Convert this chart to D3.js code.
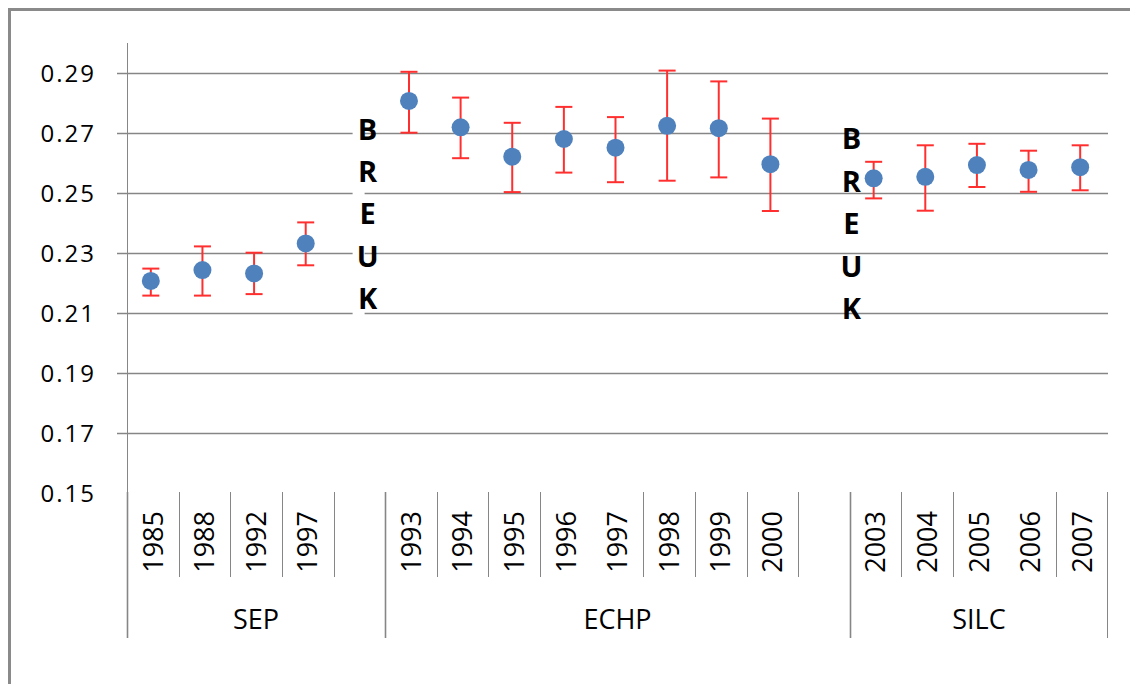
<!DOCTYPE html>
<html>
<head>
<meta charset="utf-8">
<script src="https://cdn.jsdelivr.net/npm/d3@7"></script>
<style>
  body { margin: 0; background: #fff; }
  svg text { font-family: "Open Sans", sans-serif; fill: #000; }
</style>
</head>
<body>
<div class="chart-canvas"></div>
<script>
// survey groups and their years
const groups = ['SEP', 'ECHP', 'SILC'];
const sepYears = ['1985', '1988', '1992', '1997'];
const echpYears = ['1993', '1994', '1995', '1996', '1997', '1998', '1999', '2000'];
const silcYears = ['2003', '2004', '2005', '2006', '2007'];

// point estimates and confidence bounds
const sepMean = [0.2207, 0.2243, 0.2232, 0.2332];
const sepLow = [0.2158, 0.2158, 0.2163, 0.2259];
const sepHigh = [0.2248, 0.2322, 0.2301, 0.2402];

const echpMean = [0.2807, 0.2719, 0.2621, 0.2680, 0.2651, 0.2724, 0.2716, 0.2596];
const echpLow = [0.2701, 0.2616, 0.2503, 0.2568, 0.2536, 0.2541, 0.2552, 0.2440];
const echpHigh = [0.2904, 0.2818, 0.2734, 0.2787, 0.2753, 0.2908, 0.2872, 0.2748];

const silcMean = [0.2549, 0.2554, 0.2593, 0.2577, 0.2586];
const silcLow = [0.2482, 0.2441, 0.2520, 0.2504, 0.2509];
const silcHigh = [0.2604, 0.2659, 0.2664, 0.2641, 0.2659];

const yTicks = [0.15, 0.17, 0.19, 0.21, 0.23, 0.25, 0.27, 0.29];
const breakLabel = 'BREUK';

//build one slot per year, plus an empty slot after SEP and ECHP
const slots = [];
const addGroup = (group, years, mean, low, high, gap) => {
    years.forEach((yr, i) => slots.push({ group, year: yr, key: group + '|' + yr, mean: mean[i], low: low[i], high: high[i] }));
    if (gap) slots.push({ group, year: '', key: group + '|', mean: null });
};
addGroup(groups[0], sepYears, sepMean, sepLow, sepHigh, true);
addGroup(groups[1], echpYears, echpMean, echpLow, echpHigh, true);
addGroup(groups[2], silcYears, silcMean, silcLow, silcHigh, false);

const dims = { width: 1130, height: 684 };
const plot = { left: 127, right: 1108, top: 43, bottom: 493 };

const svg = d3.select('.chart-canvas')
    .append('svg')
    .attr('width', dims.width)
    .attr('height', dims.height);

// outer frame (only top and left edges fall inside the picture)
svg.append('path')
    .attr('d', `M9.5,${dims.height} V9.5 H${dims.width}`)
    .attr('fill', 'none')
    .attr('stroke', '#8a8a8a')
    .attr('stroke-width', 3);

const x = d3.scaleBand()
    .domain(slots.map(d => d.key))
    .range([plot.left, plot.right])
    .padding(0);

const y = d3.scaleLinear()
    .domain([0.15, 0.30])
    .range([plot.bottom, plot.top]);

//gridlines + tick labels
const grid = svg.append('g');
grid.selectAll('line')
    .data(yTicks.filter(t => t > 0.15))
    .enter()
    .append('line')
    .attr('x1', plot.left - 10)
    .attr('x2', plot.right)
    .attr('y1', d => Math.round(y(d)) + 0.5)
    .attr('y2', d => Math.round(y(d)) + 0.5)
    .attr('stroke', '#868686')
    .attr('stroke-width', 1.3);

grid.selectAll('text')
    .data(yTicks)
    .enter()
    .append('text')
    .attr('x', 96)
    .attr('y', d => y(d))
    .attr('dy', '0.36em')
    .attr('text-anchor', 'end')
    .attr('font-size', 24)
    .attr('letter-spacing', 2)
    .text(d => d.toFixed(2));

svg.append('line')
    .attr('x1', plot.left + 0.5).attr('x2', plot.left + 0.5)
    .attr('y1', plot.top).attr('y2', plot.bottom)
    .attr('stroke', '#868686');

//category axis: year labels, separators, group labels
const sepBottom = 577, groupBottom = 638;
// Excel left out two of the inner separators, keep them out too
const skipSep = ['ECHP|1997', 'SILC|2006'];

slots.forEach((d, i) => {
    const first = i === 0 || slots[i - 1].group !== d.group;
    if (!first && skipSep.includes(d.key)) return;
    svg.append('line')
        .attr('x1', Math.round(x(d.key)) + 0.5)
        .attr('x2', Math.round(x(d.key)) + 0.5)
        .attr('y1', plot.bottom - 1)
        .attr('y2', first ? groupBottom : sepBottom)
        .attr('stroke', '#868686')
        .attr('stroke-width', first ? 1.6 : 1);
});
svg.append('line')
    .attr('x1', plot.right - 0.5).attr('x2', plot.right - 0.5)
    .attr('y1', plot.bottom - 1).attr('y2', groupBottom)
    .attr('stroke', '#868686');

svg.append('g')
    .selectAll('text')
    .data(slots.filter(d => d.year))
    .enter()
    .append('text')
    .attr('transform', d => `translate(${x(d.key) + x.bandwidth() / 2}, 511) rotate(-90)`)
    .attr('dy', '0.36em')
    .attr('text-anchor', 'end')
    .attr('font-size', 27)
    .text(d => d.year);

svg.append('g')
    .selectAll('text')
    .data(groups)
    .enter()
    .append('text')
    .attr('x', g => {
        const keys = slots.filter(d => d.group === g).map(d => d.key);
        return (x(keys[0]) + x(keys[keys.length - 1]) + x.bandwidth()) / 2;
    })
    .attr('y', 629)
    .attr('text-anchor', 'middle')
    .attr('font-size', 27)
    .text(g => g);

//break annotations
const breakSpots = [
    { x: x('SEP|') + x.bandwidth() * 0.66, y: y(0.2713), mask: true },
    { x: x('ECHP|') + x.bandwidth() * 1.03, y: y(0.2680), mask: false }
];
breakSpots.forEach(b => {
    if (b.mask) {
        svg.append('rect')
            .attr('x', b.x - 15).attr('y', b.y - 25)
            .attr('width', 12).attr('height', 215)
            .attr('fill', '#fff');
    }
    svg.append('g')
        .selectAll('text')
        .data(breakLabel.split(''))
        .enter()
        .append('text')
        .attr('x', b.x)
        .attr('y', (d, i) => b.y + i * 42.4)
        .attr('dy', '0.36em')
        .attr('text-anchor', 'middle')
        .attr('font-size', 29)
        .attr('font-weight', 700)
        .text(d => d);
});

//error bars and points
const data = slots.filter(d => d.mean !== null);
const cx = d => x(d.key) + x.bandwidth() / 2 - 2;
const cap = 8.5;

const bars = svg.append('g')
    .attr('stroke', '#ff2f2f')
    .attr('stroke-width', 2);
bars.selectAll('.err')
    .data(data)
    .enter()
    .append('line')
    .attr('x1', cx).attr('x2', cx)
    .attr('y1', d => y(d.low)).attr('y2', d => y(d.high));
bars.selectAll('.cap-hi')
    .data(data)
    .enter()
    .append('line')
    .attr('x1', d => cx(d) - cap).attr('x2', d => cx(d) + cap)
    .attr('y1', d => y(d.high)).attr('y2', d => y(d.high));
bars.selectAll('.cap-lo')
    .data(data)
    .enter()
    .append('line')
    .attr('x1', d => cx(d) - cap).attr('x2', d => cx(d) + cap)
    .attr('y1', d => y(d.low)).attr('y2', d => y(d.low));

svg.append('g')
    .selectAll('circle')
    .data(data)
    .enter()
    .append('circle')
    .attr('cx', cx)
    .attr('cy', d => y(d.mean))
    .attr('r', 9)
    .attr('fill', '#4f81bd');
</script>
</body>
</html>
